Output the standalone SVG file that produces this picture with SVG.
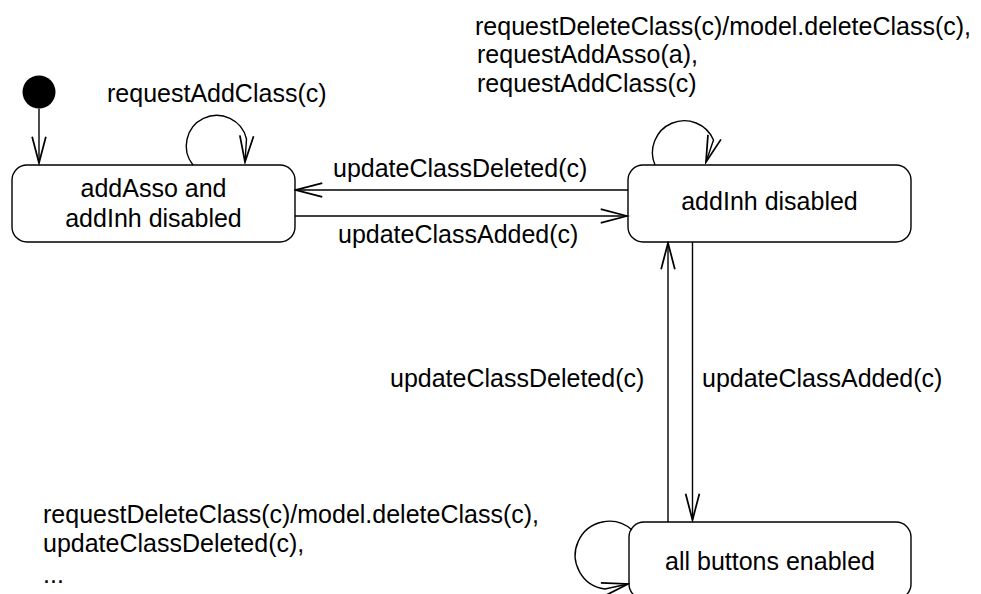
<svg xmlns="http://www.w3.org/2000/svg" width="981" height="594" viewBox="0 0 981 594">
<style>
  .node rect { fill: #fff; stroke: #000; stroke-width: 1.4; }
  text { font-family: "Liberation Sans", Arial, Helvetica, sans-serif; font-size: 25px; fill: #000; }
  .c { text-anchor: middle; }
  .edge { fill: none; stroke: #000; stroke-width: 1.4; marker-end: url(#arr); }
</style>
<defs>
  <marker id="arr" markerUnits="userSpaceOnUse" markerWidth="30" markerHeight="20" viewBox="-22 -8 24 16" refX="0" refY="0" orient="auto">
    <path d="M -21 -5.5 L 0 0 L -21 5.5" fill="none" stroke="#000" stroke-width="1.4"/>
  </marker>
</defs>
<rect width="981" height="594" fill="#fff"/>
<g id="initial">
  <circle cx="39" cy="92" r="16.5" fill="#000"/>
</g>
<g id="state-addAsso-addInh-disabled" class="node">
  <rect x="12" y="165" width="283" height="77" rx="15" ry="15"/>
  <text class="c" x="153.5" y="197">addAsso and</text>
  <text class="c" x="153.5" y="227">addInh disabled</text>
</g>
<g id="state-addInh-disabled" class="node">
  <rect x="628" y="165" width="283" height="77" rx="15" ry="15"/>
  <text class="c" x="769.5" y="210">addInh disabled</text>
</g>
<g id="state-all-buttons-enabled" class="node">
  <rect x="629" y="522" width="282" height="77" rx="15" ry="15"/>
  <text class="c" x="770" y="570">all buttons enabled</text>
</g>
<g id="connectors">
  <path class="edge" d="M 39 108.5 L 39 163"/>
  <path class="edge" d="M 193 165 A 30.5 30.5 0 1 1 246.5 139 L 245 162"/>
  <path class="edge" d="M 655 165 A 31.5 31.5 0 1 1 713.5 140 L 706 162"/>
  <path class="edge" d="M 628 190 L 296 190"/>
  <path class="edge" d="M 295 216 L 627 216"/>
  <path class="edge" d="M 692.5 242 L 692.5 520"/>
  <path class="edge" d="M 668 522 L 668 243"/>
  <path class="edge" d="M 632 530 A 34 34 0 1 0 605 589 L 628 584"/>
</g>
<g id="labels">
  <text x="107" y="102">requestAddClass(c)</text>
  <text x="475" y="35">requestDeleteClass(c)/model.deleteClass(c),</text>
  <text x="477" y="63">requestAddAsso(a),</text>
  <text x="477" y="92">requestAddClass(c)</text>
  <text x="333" y="177">updateClassDeleted(c)</text>
  <text x="338" y="243">updateClassAdded(c)</text>
  <text x="390" y="387">updateClassDeleted(c)</text>
  <text x="702" y="387">updateClassAdded(c)</text>
  <text x="43" y="523">requestDeleteClass(c)/model.deleteClass(c),</text>
  <text x="43" y="552">updateClassDeleted(c),</text>
  <text x="43" y="583">...</text>
</g>
</svg>
